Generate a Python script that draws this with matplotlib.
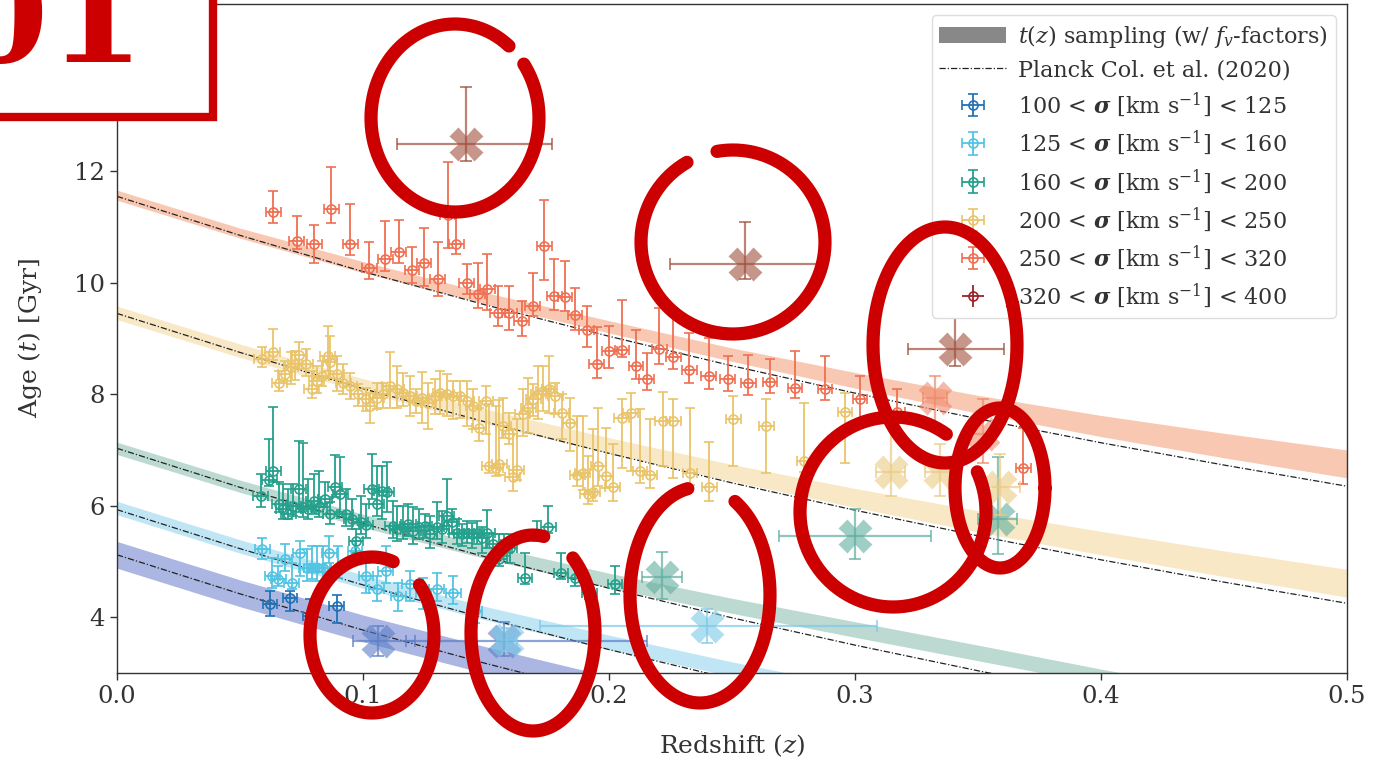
import numpy as np
import matplotlib
matplotlib.use("Agg")
import matplotlib.pyplot as plt
from matplotlib.patches import Patch, Rectangle
from matplotlib.lines import Line2D

plt.rcParams['font.family'] = ['DejaVu Serif']
plt.rcParams['mathtext.fontset'] = 'dejavuserif'

# ---------------- data ----------------
series_labels = ["100 < $\\boldsymbol{\\sigma}$ [km s$^{-1}$] < 125",
                 "125 < $\\boldsymbol{\\sigma}$ [km s$^{-1}$] < 160",
                 "160 < $\\boldsymbol{\\sigma}$ [km s$^{-1}$] < 200",
                 "200 < $\\boldsymbol{\\sigma}$ [km s$^{-1}$] < 250",
                 "250 < $\\boldsymbol{\\sigma}$ [km s$^{-1}$] < 320",
                 "320 < $\\boldsymbol{\\sigma}$ [km s$^{-1}$] < 400"]
colors = ["#2171b5", "#50c4e2", "#24a08c", "#e9c46a", "#ef7052", "#9b2226"]

# Planck (2020) lookback time [Gyr] on a redshift grid
grid_z = [0.0, 0.05, 0.10, 0.15, 0.20, 0.25, 0.30, 0.35, 0.40, 0.45, 0.50]
lookback = [0.0, 0.70, 1.35, 1.95, 2.51, 3.04, 3.53, 3.99, 4.42, 4.82, 5.20]
planck_t0 = [5.12, 5.93, 7.03, 9.45, 11.55]

# t(z) sampling bands (lower / upper edges on grid_z)
band_lo_db = [4.88, 4.19, 3.56, 2.99, 2.46, 1.97, 1.52, 1.10, 0.70, 0.30, 0.00]
band_hi_db = [5.36, 4.67, 4.04, 3.47, 2.94, 2.45, 2.00, 1.60, 1.20, 0.80, 0.40]
band_lo_lb = [5.84, 5.15, 4.52, 3.95, 3.42, 2.94, 2.50, 2.00, 1.60, 1.20, 0.80]
band_hi_lb = [6.08, 5.39, 4.76, 4.19, 3.68, 3.20, 2.76, 2.30, 1.90, 1.50, 1.10]
band_lo_te = [6.92, 6.24, 5.61, 5.05, 4.53, 4.07, 3.64, 3.22, 2.80, 2.40, 2.00]
band_hi_te = [7.14, 6.46, 5.85, 5.29, 4.79, 4.34, 3.92, 3.50, 3.07, 2.67, 2.27]
band_lo_ye = [9.34, 8.66, 8.04, 7.47, 6.94, 6.44, 5.97, 5.53, 5.12, 4.73, 4.36]
band_hi_ye = [9.58, 8.90, 8.28, 7.73, 7.22, 6.74, 6.31, 5.91, 5.54, 5.19, 4.86]
band_lo_or = [11.48, 10.80, 10.18, 9.62, 9.10, 8.59, 8.11, 7.66, 7.24, 6.86, 6.50]
band_hi_or = [11.66, 10.98, 10.38, 9.82, 9.32, 8.83, 8.39, 7.98, 7.62, 7.30, 7.00]
band_colors = ["#abb6e2", "#c0e6f5", "#bddad2", "#f8e8c6", "#f8c8b2"]

# 100-125
z_db = [0.0622, 0.0703, 0.0785, 0.0893]
t_db = [4.23, 4.35, 4.03, 4.20]
eh_db = [0.24, 0.12, 0.30, 0.20]
el_db = [0.21, 0.24, 0.27, 0.30]
# 125-160
z_lb = [0.0591, 0.0632, 0.0656, 0.0683, 0.0710, 0.0744, 0.0771, 0.0791, 0.0814, 0.0839, 0.0863,
        0.0897, 0.0967, 0.1012, 0.1055, 0.1093, 0.1144, 0.1190, 0.1245, 0.1299, 0.1367, 0.1455]
t_lb = [5.22, 4.74, 4.68, 5.04, 4.62, 5.16, 4.89, 4.89, 4.89, 4.89, 5.16,
        4.89, 5.19, 4.74, 4.50, 4.83, 4.38, 4.59, 4.44, 4.50, 4.44, 4.11]
eh_lb = [0.21, 0.33, 0.24, 0.27, 0.36, 0.21, 0.33, 0.39, 0.39, 0.39, 0.29,
         0.39, 0.18, 0.24, 0.24, 0.45, 0.24, 0.24, 0.27, 0.29, 0.30, 0.27]
el_lb = [0.18, 0.21, 0.12, 0.21, 0.12, 0.42, 0.24, 0.21, 0.24, 0.24, 0.18,
         0.18, 0.09, 0.30, 0.21, 0.21, 0.27, 0.30, 0.30, 0.21, 0.21, 0.21]
# 160-200
z_te = [0.0584, 0.0619, 0.0636, 0.0660, 0.0676, 0.0697, 0.0717, 0.0738, 0.0758, 0.0778, 0.0799,
        0.0823, 0.0846, 0.0866, 0.0886, 0.0907, 0.0931, 0.0954, 0.0972, 0.0990, 0.1012, 0.1035,
        0.1055, 0.1076, 0.1096, 0.1120, 0.1139, 0.1161, 0.1184, 0.1205, 0.1229, 0.1252, 0.1272,
        0.1299, 0.1320, 0.1340, 0.1361, 0.1381, 0.1401, 0.1421, 0.1442, 0.1462, 0.1482, 0.1505,
        0.1529, 0.1554, 0.1574, 0.1598, 0.1659, 0.1707, 0.1754, 0.1805, 0.1862, 0.1920, 0.2024]
t_te = [6.18, 6.47, 6.62, 6.03, 5.94, 5.85, 6.00, 6.30, 5.97, 5.94, 6.09,
        5.97, 6.12, 5.85, 6.33, 6.21, 5.85, 5.76, 5.37, 5.70, 5.65, 6.30,
        6.03, 6.27, 6.24, 5.64, 5.58, 5.61, 5.67, 5.55, 5.61, 5.64, 5.49,
        5.61, 5.58, 5.82, 5.70, 5.52, 5.49, 5.52, 5.49, 5.52, 5.43, 5.52,
        5.31, 5.04, 5.22, 5.25, 4.71, 5.46, 5.61, 4.80, 4.71, 4.44, 4.59]
eh_te = [0.39, 0.72, 1.15, 0.39, 0.45, 0.45, 0.39, 0.87, 1.16, 0.54, 0.48,
         0.66, 0.30, 0.21, 0.58, 0.66, 0.45, 0.36, 0.21, 0.48, 0.38, 0.63,
         0.69, 0.45, 0.54, 0.45, 0.42, 0.39, 0.36, 0.42, 0.33, 0.21, 0.33,
         0.45, 0.33, 0.66, 0.25, 0.24, 0.18, 0.20, 0.20, 0.20, 0.18, 0.41,
         0.18, 0.45, 0.27, 0.24, 0.45, 0.27, 0.38, 0.36, 0.27, 0.15, 0.33]
el_te = [0.21, 0.12, 0.20, 0.15, 0.18, 0.09, 0.18, 0.42, 0.18, 0.18, 0.24,
         0.18, 0.15, 0.18, 0.18, 0.33, 0.21, 0.18, 0.21, 0.21, 0.22, 0.18,
         0.21, 0.51, 0.36, 0.21, 0.21, 0.21, 0.21, 0.24, 0.21, 0.21, 0.24,
         0.21, 0.24, 0.18, 0.21, 0.21, 0.21, 0.18, 0.24, 0.21, 0.27, 0.27,
         0.18, 0.12, 0.12, 0.27, 0.12, 0.09, 0.09, 0.12, 0.15, 0.12, 0.18]
# 200-250
z_ye = [0.0588, 0.0633, 0.0660, 0.0683, 0.0707, 0.0724, 0.0741, 0.0768, 0.0791, 0.0812, 0.0832,
        0.0856, 0.0866, 0.0893, 0.0920, 0.0947, 0.0981, 0.1012, 0.1028, 0.1055, 0.1080, 0.1109,
        0.1137, 0.1163, 0.1190, 0.1215, 0.1238, 0.1265, 0.1293, 0.1313, 0.1340, 0.1367, 0.1394,
        0.1421, 0.1448, 0.1472, 0.1500, 0.1513, 0.1541, 0.1554, 0.1570, 0.1595, 0.1608, 0.1625,
        0.1649, 0.1672, 0.1692, 0.1713, 0.1733, 0.1758, 0.1782, 0.1808, 0.1841, 0.1871, 0.1893,
        0.1913, 0.1934, 0.1956, 0.1988, 0.2015, 0.2051, 0.2088, 0.2126, 0.2167, 0.2218, 0.2261,
        0.2329, 0.2408, 0.2505, 0.2640, 0.2794, 0.2959]
t_ye = [8.63, 8.76, 8.21, 8.36, 8.48, 8.55, 8.70, 8.54, 8.09, 8.24, 8.33,
        8.68, 8.57, 8.36, 8.21, 8.15, 8.00, 7.91, 7.79, 7.94, 8.00, 8.15,
        8.09, 8.03, 7.97, 7.88, 7.94, 7.85, 7.97, 8.03, 8.00, 7.97, 7.97,
        7.88, 7.79, 7.40, 7.88, 6.71, 6.68, 6.74, 7.43, 7.28, 6.51, 6.65,
        7.64, 7.76, 7.91, 8.00, 8.06, 8.09, 7.97, 7.67, 7.49, 6.56, 6.59,
        6.21, 6.24, 6.71, 6.53, 6.33, 7.58, 7.67, 6.62, 6.56, 7.52, 7.52,
        6.59, 6.33, 7.55, 7.43, 6.80, 7.68]
eh_ye = [0.21, 0.41, 0.21, 0.24, 0.28, 0.22, 0.23, 0.27, 0.33, 0.27, 0.27,
         0.54, 0.48, 0.33, 0.33, 0.24, 0.18, 0.21, 0.24, 0.27, 0.21, 0.61,
         0.42, 0.36, 0.36, 0.21, 0.46, 0.36, 0.30, 0.39, 0.36, 0.27, 0.27,
         0.36, 0.30, 0.36, 0.27, 1.11, 1.11, 1.16, 0.51, 0.39, 0.87, 0.90,
         0.45, 0.54, 0.27, 0.51, 0.45, 0.60, 0.24, 0.33, 0.45, 1.05, 1.02,
         0.69, 1.14, 1.05, 0.87, 0.78, 0.34, 0.36, 1.11, 0.99, 0.52, 0.39,
         1.16, 0.82, 0.41, 0.49, 1.05, 0.35]
el_ye = [0.15, 0.15, 0.15, 0.12, 0.30, 0.29, 0.25, 0.21, 0.15, 0.21, 0.18,
         0.27, 0.27, 0.30, 0.21, 0.24, 0.21, 0.21, 0.30, 0.21, 0.24, 0.39,
         0.33, 0.24, 0.36, 0.21, 0.45, 0.48, 0.33, 0.39, 0.39, 0.42, 0.39,
         0.45, 0.42, 0.24, 0.60, 0.12, 0.15, 0.18, 0.21, 0.18, 0.24, 0.18,
         0.39, 0.45, 0.30, 0.45, 0.36, 0.42, 0.33, 0.48, 0.51, 0.21, 0.30,
         0.18, 0.15, 0.36, 0.21, 0.24, 0.90, 1.05, 0.21, 0.24, 0.81, 1.02,
         0.21, 0.24, 0.84, 0.84, 0.20, 0.92]
# 250-320
z_or = [0.0636, 0.0731, 0.0802, 0.0871, 0.0949, 0.1025, 0.1090, 0.1145, 0.1199, 0.1248, 0.1304,
        0.1344, 0.1379, 0.1421, 0.1466, 0.1506, 0.1548, 0.1595, 0.1645, 0.1690, 0.1737, 0.1778,
        0.1821, 0.1862, 0.1909, 0.1950, 0.2001, 0.2053, 0.2110, 0.2153, 0.2205, 0.2262, 0.2327,
        0.2405, 0.2482, 0.2566, 0.2654, 0.2756, 0.2878, 0.3020, 0.3172, 0.3684]
t_or = [11.27, 10.75, 10.69, 11.33, 10.70, 10.27, 10.42, 10.55, 10.23, 10.36, 10.06,
        11.22, 10.69, 10.00, 9.79, 9.88, 9.45, 9.45, 9.31, 9.58, 10.66, 9.76,
        9.75, 9.43, 9.15, 8.55, 8.77, 8.79, 8.51, 8.28, 8.82, 8.66, 8.43,
        8.33, 8.27, 8.20, 8.22, 8.12, 8.10, 7.91, 7.69, 6.67]
eh_or = [0.37, 0.45, 0.35, 0.75, 0.72, 0.46, 0.68, 0.58, 0.41, 0.63, 0.67,
         0.94, 0.59, 0.33, 0.57, 0.63, 0.50, 0.49, 0.36, 0.60, 0.82, 0.66,
         0.64, 0.48, 0.44, 0.66, 0.45, 0.90, 0.64, 0.46, 0.73, 0.80, 0.67,
         0.68, 0.41, 0.51, 0.42, 0.65, 0.58, 0.41, 0.40, 0.73]
el_or = [0.20, 0.15, 0.33, 0.25, 0.21, 0.21, 0.21, 0.19, 0.23, 0.42, 0.30,
         0.59, 0.18, 0.21, 0.24, 0.36, 0.23, 0.29, 0.27, 0.18, 0.61, 0.24,
         0.26, 0.27, 0.31, 0.25, 0.30, 0.13, 0.24, 0.20, 0.28, 0.20, 0.22,
         0.23, 0.21, 0.21, 0.19, 0.18, 0.20, 0.42, 0.35, 0.28]
xerr_pts = 0.003

# lens-galaxy points (big crosses): z, t, z-err low/high, t-err low/high, group index
lens_group = [0, 0, 1, 1, 2, 2, 2, 3, 3, 3, 4, 4, 5, 5, 5]
lens_z = [0.106, 0.1575, 0.1585, 0.240, 0.2215, 0.300, 0.358, 0.3145, 0.3346, 0.359, 0.3325, 0.3522, 0.1419, 0.2553, 0.3407]
lens_t = [3.58, 3.58, 3.60, 3.84, 4.72, 5.45, 5.76, 6.60, 6.60, 6.33, 7.94, 7.28, 12.48, 10.33, 8.82]
lens_zl = [0.010, 0.040, 0.004, 0.068, 0.008, 0.031, 0.008, 0.006, 0.006, 0.008, 0.005, 0.005, 0.028, 0.0305, 0.019]
lens_zh = [0.015, 0.058, 0.004, 0.069, 0.008, 0.031, 0.008, 0.006, 0.006, 0.008, 0.005, 0.005, 0.035, 0.0305, 0.020]
lens_tl = [0.28, 0.28, 0.20, 0.30, 0.40, 0.40, 0.63, 0.42, 0.42, 0.50, 0.57, 0.51, 0.30, 0.27, 0.31]
lens_th = [0.27, 0.33, 0.20, 0.30, 0.45, 0.49, 1.11, 0.89, 0.50, 0.60, 0.38, 0.64, 1.04, 0.76, 0.55]
lens_colors = ["#5a7ec8", "#7cc8e8", "#5fae9e", "#eccb82", "#f08a6c", "#a0503c"]

y_ticks = [4, 6, 8, 10, 12]
x_ticks = [0.0, 0.1, 0.2, 0.3, 0.4, 0.5]

# ---------------- figure ----------------
W, H = 1373, 769
fig = plt.figure(figsize=(W / 100, H / 100), dpi=100)
ax = fig.add_axes([117 / W, 1 - 673 / H, (1347 - 117) / W, (673 - 4) / H])
tc = "#333333"

bands = [(band_lo_db, band_hi_db), (band_lo_lb, band_hi_lb), (band_lo_te, band_hi_te),
         (band_lo_ye, band_hi_ye), (band_lo_or, band_hi_or)]
gz = np.array(grid_z)
lbk = np.array(lookback)
for (lo, hi), bc in zip(bands, band_colors):
    ax.fill_between(gz, lo, hi, color=bc, lw=0, zorder=1)
for t0 in planck_t0:
    ax.plot(gz, t0 - lbk, color="#222222", lw=0.9, ls=(0, (5, 1.6, 1, 1.6)), zorder=2)

pts = [(z_db, t_db, el_db, eh_db), (z_lb, t_lb, el_lb, eh_lb), (z_te, t_te, el_te, eh_te),
       (z_ye, t_ye, el_ye, eh_ye), (z_or, t_or, el_or, eh_or)]
handles = []
for i, (zz, tt, el, eh) in enumerate(pts):
    h = ax.errorbar(zz, tt, yerr=[el, eh], xerr=xerr_pts, fmt='o', ms=6.5, mfc='none',
                    mec=colors[i], mew=1.2, color=colors[i], ecolor=colors[i],
                    elinewidth=1.3, capsize=3.5, capthick=1.3, zorder=3, label=series_labels[i])
    handles.append(h)
h6 = ax.errorbar([], [], yerr=[[], []], xerr=[[], []], fmt='o', ms=6.5, mfc='none',
                 mec=colors[5], mew=1.2, color=colors[5], ecolor=colors[5],
                 elinewidth=1.3, capsize=3.5, capthick=1.3, label=series_labels[5])
handles.append(h6)

for k in range(len(lens_z)):
    c = lens_colors[lens_group[k]]
    ax.errorbar([lens_z[k]], [lens_t[k]], yerr=[[lens_tl[k]], [lens_th[k]]],
                xerr=[[lens_zl[k]], [lens_zh[k]]], fmt='none', ecolor=c, alpha=0.7,
                elinewidth=1.6, capsize=4, capthick=1.4, zorder=4)
    ax.plot([lens_z[k]], [lens_t[k]], marker='X', ms=24, color=c, mec='none', alpha=0.6, zorder=4)

ax.set_xlim(0, 0.5)
ax.set_ylim(3, 15)
ax.set_xticks(x_ticks)
ax.set_yticks(y_ticks)
ax.tick_params(labelsize=17.5, colors=tc, length=5, width=1)
for s in ax.spines.values():
    s.set_color("#333333")
    s.set_linewidth(1.0)
ax.set_xlabel("Redshift ($z$)", fontsize=18, color=tc, labelpad=18)
ax.set_ylabel("Age ($t$) [Gyr]", fontsize=18, color=tc, labelpad=22)

band_handle = Patch(facecolor="#888888", edgecolor='none')
planck_handle = Line2D([], [], color="#222222", lw=0.9, ls=(0, (5, 1.6, 1, 1.6)))
leg = ax.legend([band_handle, planck_handle] + handles,
                ["$t(z)$ sampling (w/ $f_v$-factors)", "Planck Col. et al. (2020)"] + series_labels,
                loc='upper right', fontsize=16, frameon=True, fancybox=True, framealpha=1,
                edgecolor="#dddddd", handlelength=3.0, labelspacing=0.42, borderaxespad=0.5,
                handletextpad=0.55, borderpad=0.35)
for t in leg.get_texts():
    t.set_color(tc)

# ---------------- red hand-drawn annotations ----------------
loops = [(455, 118, 84, 94, 50, 345), (733, 242, 92, 92, 120, 340), (945, 345, 72, 118, 20, 360),
         (893, 512, 93, 95, 55, 330), (1000, 488, 45, 80, 0, 360), (372, 635, 62, 78, 70, 330),
         (533, 633, 62, 98, 80, 330), (700, 595, 70, 108, 100, 320)]
for cx, cy, rx, ry, a0, sw in loops:
    th = np.radians(np.linspace(a0, a0 + sw, 300))
    px = cx + rx * np.cos(th)
    py = cy - ry * np.sin(th)
    fig.add_artist(Line2D(px / W, 1 - py / H, color="#cc0000", lw=9.5, solid_capstyle='round',
                          transform=fig.transFigure, zorder=10))

fig.add_artist(Rectangle((-20 / W, 1 - 117 / H), 233 / W, 140 / H, transform=fig.transFigure,
                         facecolor='white', edgecolor="#cc0000", lw=6, zorder=11))
fig.text(145 / W, 1 - 62 / H, "01", ha='right', va='baseline', fontsize=100,
         fontweight='bold', color="#cc0000", zorder=12)

fig.savefig("out.png", dpi=100)
